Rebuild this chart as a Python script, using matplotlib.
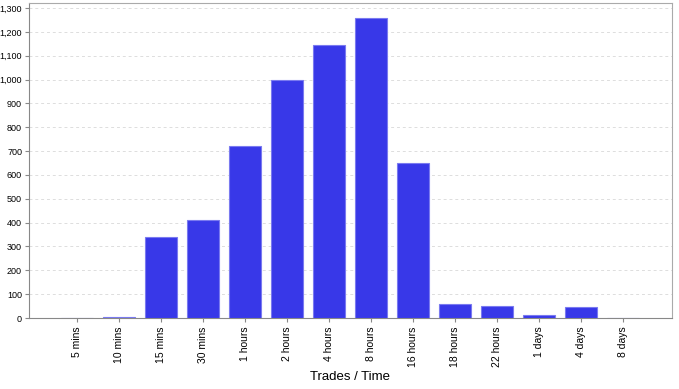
import numpy as np
import matplotlib
matplotlib.use('Agg')
from matplotlib import pyplot as plt
from matplotlib.ticker import FuncFormatter

categories = ['5 mins', '10 mins', '15 mins', '30 mins', '1 hours', '2 hours', '4 hours',
              '8 hours', '16 hours', '18 hours', '22 hours', '1 days', '4 days', '8 days']
trades = [0, 3, 340, 410, 720, 1000, 1145, 1260, 650, 58, 50, 13, 45, 0]

plt.rcParams['font.family'] = ['Liberation Sans', 'DejaVu Sans']

fig = plt.figure(figsize=(6.79, 3.89), dpi=100)
ax = fig.add_axes([29 / 679, 71 / 389, 643 / 679, 315 / 389])

x = np.arange(len(categories))
ax.bar(x, trades, width=0.76, color='#3838E8', edgecolor='#7a7af0', linewidth=0.8, zorder=3)

ax.set_xlim(-1.14, len(categories) - 1 + 49 / 42)
ax.set_ylim(0, 1321)
ax.set_yticks(np.arange(0, 1301, 100))
ax.yaxis.set_major_formatter(FuncFormatter(lambda v, p: f'{int(v):,}'))
ax.set_xticks(x)
ax.set_xticklabels(categories, rotation=90, fontsize=7.5)
ax.tick_params(axis='y', labelsize=6.5, length=3, color='#888888', pad=2)
ax.tick_params(axis='x', length=3, color='#888888', pad=3)

ax.grid(axis='y', linestyle=(0, (3, 3)), color='#dddddd', linewidth=0.7, zorder=0)
for s in ax.spines.values():
    s.set_color('#aaaaaa')
ax.spines['left'].set_color('#888888')
ax.spines['bottom'].set_color('#888888')

ax.set_xlabel('Trades / Time', fontsize=9.5)
ax.xaxis.set_label_coords(0.499, -0.168)

fig.savefig('out.png', dpi=100)
